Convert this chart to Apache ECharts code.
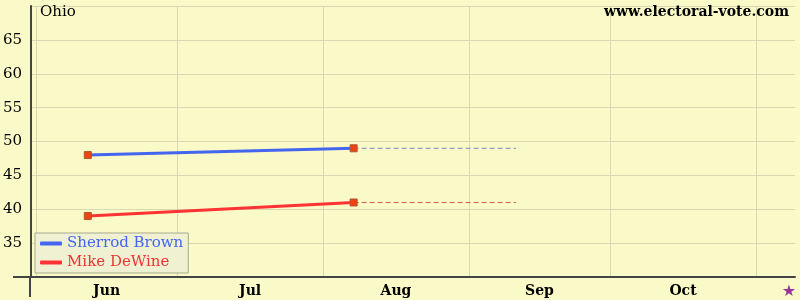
<!DOCTYPE html>
<html><head><meta charset="utf-8">
<script src="https://cdn.jsdelivr.net/npm/echarts@6/dist/echarts.min.js"></script>
<style>html,body{margin:0;padding:0;background:#FAFAC8}#c{width:800px;height:300px}</style>
</head><body><div id="c"></div>
<script>
// days counted from Jun 1 (day 0)
const monthStarts = [0, 30, 61, 92, 122, 153];
const monthNames = ['Jun', 'Jul', 'Aug', 'Sep', 'Oct'];
const monthMids = [15, 45.5, 76.5, 107, 137.5];
const electionDay = 160;
const pollDays = [11, 67.5];
const brownValues = [48, 49];
const dewineValues = [39, 41];
const projectionEnd = 102;
const yTicks = [35, 40, 45, 50, 55, 60, 65];

const labelFor = {};
monthMids.forEach((d, i) => labelFor[d] = monthNames[i]);

const font = 'DejaVu Serif';
const chart = echarts.init(document.getElementById('c'), null, {renderer: 'canvas'});
chart.setOption({
  backgroundColor: '#FAFAC8',
  animation: false,
  title: [
    {text: 'Ohio', left: 35, top: 0, textStyle: {fontFamily: font, fontSize: 15, fontWeight: 'normal', color: '#000'}},
    {text: 'www.electoral-vote.com', right: 6, top: 0, textStyle: {fontFamily: font, fontSize: 14, fontWeight: 'bold', color: '#000'}}
  ],
  grid: {left: 30, right: 5, top: 6, bottom: 23},
  legend: {
    left: 35, bottom: 27, orient: 'vertical',
    data: [
      {name: 'Sherrod Brown', itemStyle: {color: '#4466EE', borderWidth: 0}},
      {name: 'Mike DeWine', itemStyle: {color: '#FF3333', borderWidth: 0}}
    ],
    backgroundColor: '#F0F0D2', borderColor: '#A8A890', borderWidth: 1, borderRadius: 0,
    padding: [3, 5, 3, 5], itemGap: 4,
    icon: 'roundRect', itemWidth: 22, itemHeight: 4,
    formatter: n => n === 'Sherrod Brown' ? '{b|' + n + '}' : '{r|' + n + '}',
    textStyle: {fontFamily: font, fontSize: 15, rich: {b: {color: '#4466EE', fontFamily: font, fontSize: 15}, r: {color: '#EE3333', fontFamily: font, fontSize: 15}}}
  },
  xAxis: {
    type: 'value', min: -1.05, max: 161.3,
    axisLine: {show: true, onZero: false, lineStyle: {color: '#444', width: 2}},
    axisTick: {show: false, customValues: monthStarts},
    splitLine: {show: true, lineStyle: {color: '#D8D8B4', width: 1}},
    axisLabel: {
      customValues: monthMids.concat([electionDay]),
      margin: 7,
      formatter: v => v === electionDay ? '{s|★}' : (labelFor[v] || ''),
      fontFamily: font, fontSize: 14, fontWeight: 'bold', color: '#000',
      rich: {s: {color: '#993399', fontSize: 16, fontFamily: 'DejaVu Sans'}}
    }
  },
  yAxis: {
    type: 'value', min: 30, max: 70, interval: 5,
    axisLine: {show: true, onZero: false, lineStyle: {color: '#444', width: 2}},
    axisTick: {show: false},
    splitLine: {show: true, lineStyle: {color: '#D8D8B4', width: 1}},
    axisLabel: {
      margin: 9, fontFamily: font, fontSize: 15, color: '#000',
      formatter: v => yTicks.includes(v) ? String(v) : ''
    }
  },
  graphic: [
    {type: 'line', shape: {x1: 13, y1: 277, x2: 30, y2: 277}, style: {stroke: '#444', lineWidth: 2}},
    {type: 'line', shape: {x1: 30, y1: 277, x2: 30, y2: 297}, style: {stroke: '#444', lineWidth: 2}}
  ],
  series: [
    {name: 'Brown proj', type: 'line', data: [[pollDays[1], brownValues[1]], [projectionEnd, brownValues[1]]],
      symbol: 'none', lineStyle: {color: '#7F8CC8', width: 1, type: [5, 3]}, z: 2},
    {name: 'DeWine proj', type: 'line', data: [[pollDays[1], dewineValues[1]], [projectionEnd, dewineValues[1]]],
      symbol: 'none', lineStyle: {color: '#D0604A', width: 1, type: [5, 3]}, z: 2},
    {name: 'Sherrod Brown', type: 'line', data: pollDays.map((d, i) => [d, brownValues[i]]),
      color: '#4466EE', lineStyle: {color: '#4466EE', width: 3},
      symbol: 'rect', symbolSize: 7, itemStyle: {color: '#EE4411', borderColor: '#B05530', borderWidth: 1}, z: 3},
    {name: 'Mike DeWine', type: 'line', data: pollDays.map((d, i) => [d, dewineValues[i]]),
      color: '#FF3333', lineStyle: {color: '#FF3333', width: 3},
      symbol: 'rect', symbolSize: 7, itemStyle: {color: '#EE4411', borderColor: '#B05530', borderWidth: 1}, z: 3}
  ]
});
</script></body></html>
